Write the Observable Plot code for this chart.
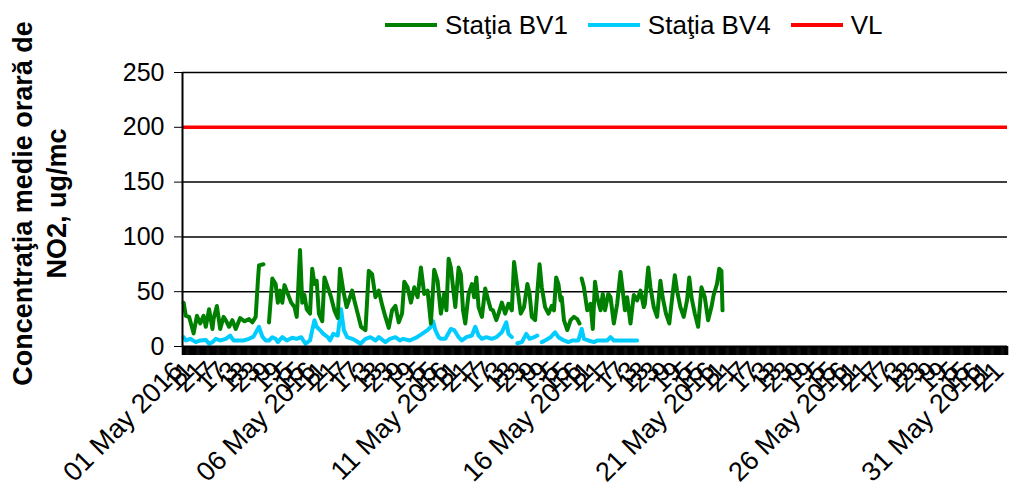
<!DOCTYPE html>
<html><head><meta charset="utf-8">
<script src="https://cdn.jsdelivr.net/npm/d3@7"></script>
<script src="https://cdn.jsdelivr.net/npm/@observablehq/plot@0.6"></script>
<style>
body{margin:0;background:#fff;font-family:"Liberation Sans",Arial,sans-serif;width:1009px;overflow:hidden;}
#legend{height:42px;position:relative;font-size:26px;color:#000;}
#legend .row{position:absolute;left:385px;top:10px;height:30px;display:flex;align-items:center;}
#legend .sw{display:inline-block;width:52px;height:4px;margin-right:8px;}
#legend .lab{margin-right:20px;white-space:nowrap;}
</style></head>
<body>
<div id="legend"><div class="row"></div></div>
<div id="chart"></div>
<script>
// ---- data ----
const seriesNames = ["Staţia BV1", "Staţia BV4", "VL"];
const seriesColors = ["#008000", "#00CCFF", "#FF0000"];
const yTitle = ["Concentraţia medie orară de", "NO2, ug/mc"];
const yTicks = [0, 50, 100, 150, 200, 250];
const gridValues = [50, 100, 150, 250];
const vl = 200;
const nHours = 744; // 1-31 May 2016, hourly

// hour index since 01 May 2016 00:00, value (null = missing)
const bv1Hours = [1,3,6,10,13,16,19,21,24,27,28,31,34,37,39,42,45,48,52,56,60,63,66,68,69,73,75,78,81,84,86,88,90,92,95,98,101,103,104,106,108,110,112,115,117,119,121,123,126,128,131,134,137,140,142,145,148,153,155,158,161,165,168,171,174,177,180,183,186,189,192,195,198,200,203,206,209,212,215,218,221,224,227,230,233,236,238,240,242,245,246,249,251,253,255,258,261,263,265,267,270,273,275,278,280,283,285,288,291,294,297,299,302,305,308,311,313,315,318,322,324,327,330,333,335,337,339,341,342,344,347,350,353,356,358,359,360,362,365,368,370,372,374,377,379,381,384,386,389,392,395,397,399,401,404,407,410,413,416,417,420,422,425,428,431,433,436,439,442,444,446,449,452,455,457,459,462,465,468,471,474,477,479,482,484,486,487];
const bv1Values = [40,28,27,12,28,21,28,18,34,16,25,37,16,27,24,18,24,16,26,23,25,22,27,60,74,75,null,22,62,57,40,51,40,56,48,40,36,27,45,88,40,47,34,30,71,57,60,30,23,63,54,45,33,26,71,51,36,51,42,30,18,15,69,66,45,51,38,27,17,33,37,22,30,59,54,40,54,45,72,48,51,21,70,60,30,48,33,80,72,45,36,72,66,33,21,48,57,45,63,36,27,53,45,34,33,24,30,40,30,39,33,77,54,30,36,57,48,27,24,75,54,36,30,37,33,63,57,42,45,24,15,24,27,25,21,null,62,54,33,39,16,59,45,33,48,33,48,45,21,39,68,51,33,45,21,47,42,51,36,39,72,54,36,27,60,45,30,21,48,65,51,36,27,42,63,45,30,18,54,45,24,36,47,57,71,69,33];

const bv4Hours = [1,3,7,12,16,21,24,27,30,34,39,43,46,51,55,60,64,69,72,75,78,81,84,86,90,94,99,103,107,111,115,117,119,121,124,127,131,133,136,140,143,145.5,148.5,153,156,160.5,165,169.5,174,177,183,187,192,196,199,205,211.6,216,221,224,226,228,231,233,237,242,245,249,252,256,261,264,267,270,274,279,283,288,292,294,297,300,302,306,310,313,317,320,322,324,327,332,336,339,344,348,352,357,360,362,366,371,374,379,383,386,389,393,398,404,410];
const bv4Values = [8.5,5.5,7,4,5.5,6,2.5,4,7,5.5,7,10,5.5,5.5,5.5,7,9,18,9,5.5,5.5,8.5,7,4,8.5,5.5,8,7,8.5,2.5,5.5,15,24,18,15,11.5,8.5,5.5,11.5,10,34,15,8.5,7,5.5,2.5,7,8.5,5.5,8.5,4,7,8.5,5.5,7,5.5,8.5,11.5,15,18,23,15,8.5,7,7,16,15,8.5,5.5,8.5,10,18,10,7,8.5,7,8.5,13,22,11.5,8.5,null,3,4,11.5,7,8.5,10,null,4,5.5,8.5,13,8.5,5.5,4,5.5,5.5,16,7,5.5,4,5.5,5.5,5.5,8.5,5.5,5.5,5.5,5.5,5.5];

// ---- build ----
const bv1 = bv1Hours.map((h, i) => ({h, v: bv1Values[i]}));
const bv4 = bv4Hours.map((h, i) => ({h, v: bv4Values[i]}));
const hourTicks = d3.range(0, nHours + 1);
const labelTicks = d3.range(0, nHours, 10);
const labelFmt = h => h % 24 === 0
  ? `${String(h / 24 + 1).padStart(2, "0")} May 2016`
  : String(h % 24 + 1);

// legend
const row = document.querySelector("#legend .row");
seriesNames.forEach((n, i) => {
  const sw = document.createElement("span"); sw.className = "sw"; sw.style.background = seriesColors[i];
  const lab = document.createElement("span"); lab.className = "lab"; lab.textContent = n;
  row.appendChild(sw); row.appendChild(lab);
});

const chart = Plot.plot({
  width: 1009, height: 446,
  marginLeft: 182, marginRight: 2, marginTop: 30, marginBottom: 142,
  style: {fontFamily: "Liberation Sans, Arial, sans-serif", color: "black", background: "white", overflow: "visible"},
  x: {domain: [0, nHours], axis: null},
  y: {domain: [0, 250], axis: null},
  marks: [
    Plot.ruleY(gridValues, {stroke: "black", strokeWidth: 1.5}),
    Plot.ruleY([vl], {stroke: seriesColors[2], strokeWidth: 3.5}),
    Plot.line(bv4, {x: "h", y: "v", stroke: seriesColors[1], strokeWidth: 4}),
    Plot.line(bv1, {x: "h", y: "v", stroke: seriesColors[0], strokeWidth: 4}),
    Plot.ruleY([0], {stroke: "black", strokeWidth: 2}),
    Plot.ruleX([0], {stroke: "black", strokeWidth: 2}),
    Plot.axisY({ticks: yTicks, tickSize: 8, tickPadding: 10, fontSize: 25, label: null}),
    Plot.axisX({ticks: hourTicks, tickSize: 9, strokeWidth: 1.6, tickFormat: () => "", label: null}),
    Plot.axisX({ticks: labelTicks, tickFormat: labelFmt, tickRotate: -45, tickSize: 0, tickPadding: 20, dx: -4, fontSize: 27, label: null}),
    Plot.text([yTitle[0]], {frameAnchor: "left", dx: -159, dy: -6, rotate: -90, fontSize: 27, fontWeight: "bold", textAnchor: "middle", lineAnchor: "middle"}),
    Plot.text([yTitle[1]], {frameAnchor: "left", dx: -125, dy: -6, rotate: -90, fontSize: 27, fontWeight: "bold", textAnchor: "middle", lineAnchor: "middle"})
  ]
});
document.getElementById("chart").appendChild(chart);
</script>
</body></html>
